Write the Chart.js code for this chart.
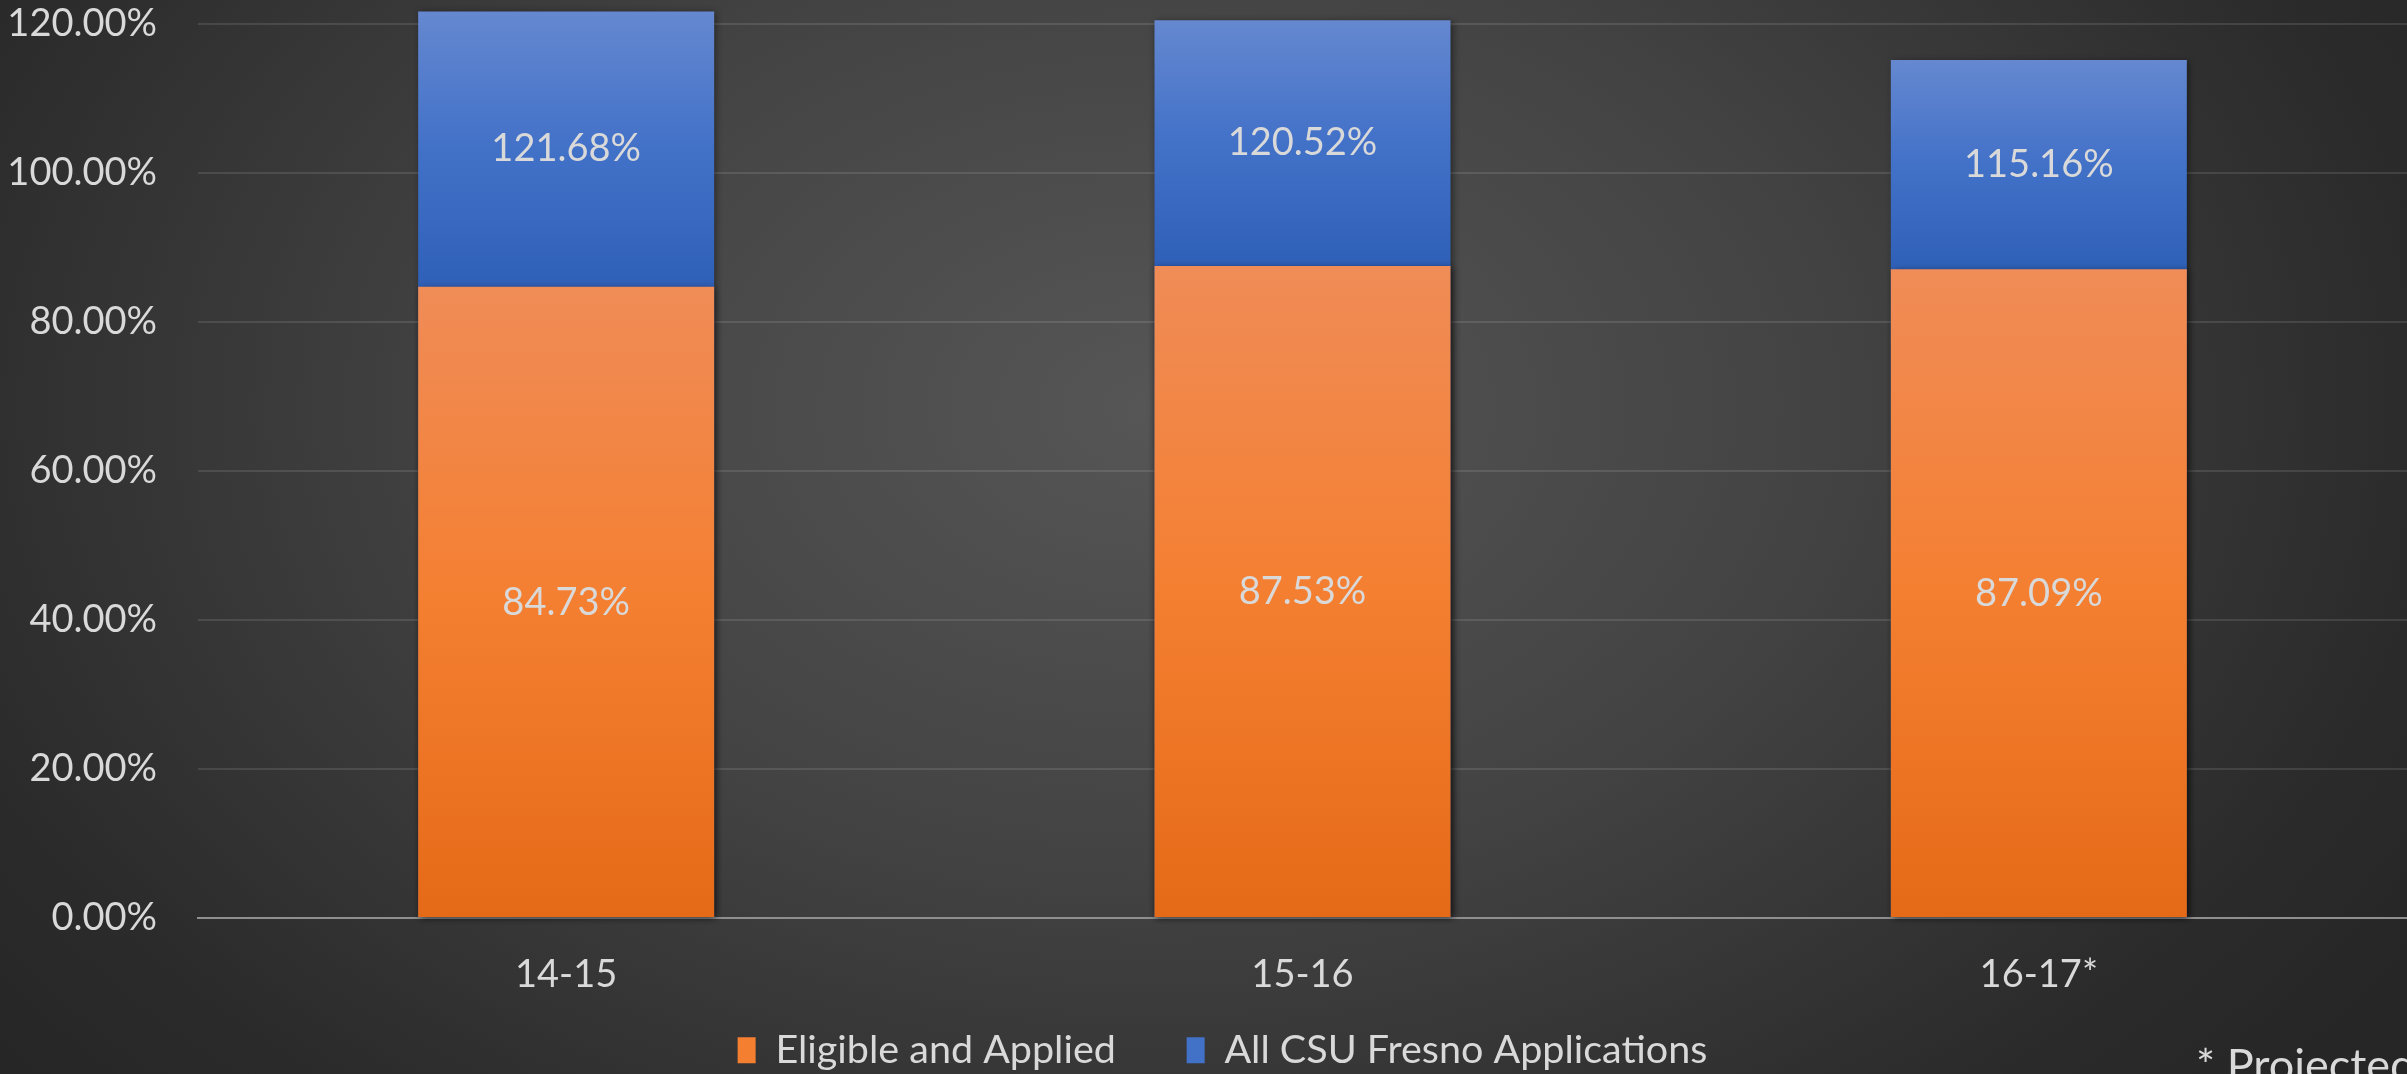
<!DOCTYPE html>
<html>
<head>
<meta charset="utf-8">
<script src="https://cdn.jsdelivr.net/npm/chart.js@4.4.1/dist/chart.umd.min.js"></script>
<style>
  html, body {
    margin: 0;
    padding: 0;
    width: 2407px;
    height: 1074px;
    overflow: hidden;
    background: radial-gradient(ellipse 62% 95% at 48% 38%, #565656 0%, #434343 45%, #2b2b2b 85%, #262626 100%);
  }
  .chart__wrapper {
    position: absolute;
    left: 0;
    top: 0;
    width: 2407px;
    height: 1080px;
  }
</style>
</head>
<body>
<div class="chart__wrapper">
  <canvas id="fresno-chart" width="2407" height="1080"></canvas>
</div>
<script>
  const categories = ["14-15", "15-16", "16-17*"];
  const eligibleApplied = [84.73, 87.53, 87.09];
  const allFresnoApps = [121.68, 120.52, 115.16];
  const yTicks = [0, 20, 40, 60, 80, 100, 120];

  const textColor = "#d9d9d9";
  const fontFamily = "Lato, 'Open Sans', sans-serif";

  const orangeStops = ["#f08c57", "#f47f31", "#e56a17"];
  const blueStops = ["#6588d0", "#4271c8", "#2f60b7"];

  // gradient over the visible part of a bar, top value -> bottom value
  function barGradient(context, top, bottom, stops) {
    const chart = context.chart;
    if (!chart.chartArea || context.dataIndex === undefined) return stops[1];
    const y = chart.scales.y;
    const g = chart.ctx.createLinearGradient(
      0,
      y.getPixelForValue(top),
      0,
      y.getPixelForValue(bottom)
    );
    g.addColorStop(0, stops[0]);
    g.addColorStop(0.5, stops[1]);
    g.addColorStop(1, stops[2]);
    return g;
  }

  const barShadow = {
    id: "barShadow",
    beforeDatasetDraw(chart) {
      const ctx = chart.ctx;
      ctx.save();
      ctx.shadowColor = "rgba(0, 0, 0, 0.45)";
      ctx.shadowBlur = 7;
      ctx.shadowOffsetX = 2;
      ctx.shadowOffsetY = 1;
    },
    afterDatasetDraw(chart) {
      chart.ctx.restore();
    },
  };

  const valueLabels = {
    id: "valueLabels",
    afterDatasetsDraw(chart) {
      const ctx = chart.ctx;
      const y = chart.scales.y;
      ctx.save();
      ctx.font = "38px " + fontFamily;
      ctx.fillStyle = textColor;
      ctx.textAlign = "center";
      ctx.textBaseline = "middle";
      chart.getDatasetMeta(0).data.forEach((bar, i) => {
        const mid = (y.getPixelForValue(eligibleApplied[i]) + y.getPixelForValue(0)) / 2;
        ctx.fillText(eligibleApplied[i].toFixed(2) + "%", bar.x, mid);
      });
      chart.getDatasetMeta(1).data.forEach((bar, i) => {
        const mid =
          (y.getPixelForValue(allFresnoApps[i]) + y.getPixelForValue(eligibleApplied[i])) / 2;
        ctx.fillText(allFresnoApps[i].toFixed(2) + "%", bar.x, mid);
      });
      ctx.restore();
    },
  };

  // legend in the slide is centred a bit right of the canvas middle
  const legendShift = {
    id: "legendShift",
    afterLayout(chart) {
      if (!chart.legend) return;
      chart.legend.left += 19;
      chart.legend.right += 19;
    },
  };

  const footNote = {
    id: "footNote",
    afterDraw(chart) {
      const ctx = chart.ctx;
      ctx.save();
      ctx.font = "45px " + fontFamily;
      ctx.fillStyle = textColor;
      ctx.textAlign = "left";
      ctx.textBaseline = "alphabetic";
      ctx.fillText("* Projected", 2196, 1081);
      ctx.restore();
    },
  };

  const chart = new Chart(document.getElementById("fresno-chart").getContext("2d"), {
    type: "bar",
    data: {
      labels: categories,
      datasets: [
        {
          label: "Eligible and Applied",
          data: eligibleApplied,
          backgroundColor: (c) => barGradient(c, eligibleApplied[c.dataIndex], 0, orangeStops),
          borderWidth: 0,
          categoryPercentage: 1,
          barPercentage: 0.402,
          clip: false,
        },
        {
          label: "All CSU Fresno Applications",
          data: allFresnoApps,
          backgroundColor: (c) =>
            barGradient(c, allFresnoApps[c.dataIndex], eligibleApplied[c.dataIndex], blueStops),
          borderWidth: 0,
          categoryPercentage: 1,
          barPercentage: 0.402,
          clip: false,
        },
      ],
    },
    options: {
      responsive: false,
      animation: false,
      layout: {
        padding: { top: 24, left: 0, right: 0, bottom: 0 },
      },
      scales: {
        x: {
          stacked: true,
          z: 1,
          grid: { display: false, drawTicks: false },
          border: { display: true, color: "#8f8f8f", width: 2 },
          ticks: {
            color: textColor,
            padding: 10,
            font: { family: fontFamily, size: 38, lineHeight: 2.434 },
          },
          afterFit: (scale) => {
            scale.paddingLeft = 0;
            scale.paddingRight = 0;
          },
        },
        y: {
          stacked: false,
          min: 0,
          max: 120,
          afterBuildTicks: (scale) => {
            scale.ticks = yTicks.map((v) => ({ value: v }));
          },
          afterFit: (scale) => {
            scale.paddingTop = 0;
            scale.paddingBottom = 0;
            scale.width = 198;
          },
          grid: {
            color: "rgba(255, 255, 255, 0.11)",
            lineWidth: 2,
            drawTicks: false,
          },
          border: { display: false },
          ticks: {
            color: textColor,
            padding: 41,
            font: { family: fontFamily, size: 38 },
            callback: (v) => Number(v).toFixed(2) + "%",
          },
        },
      },
      plugins: {
        title: { display: false },
        tooltip: { enabled: false },
        legend: {
          position: "bottom",
          labels: {
            color: textColor,
            font: { family: fontFamily, size: 39.5 },
            boxWidth: 18,
            boxHeight: 26,
            padding: 0,
            generateLabels: (chart) =>
              chart.data.datasets.map((ds, i) => ({
                text: ds.label + (i === 0 ? "       " : ""),
                fillStyle: i === 0 ? orangeStops[1] : blueStops[1],
                strokeStyle: "transparent",
                lineWidth: 0,
                fontColor: textColor,
                datasetIndex: i,
              })),
          },
        },
      },
    },
    plugins: [barShadow, valueLabels, legendShift, footNote],
  });
</script>
</body>
</html>
